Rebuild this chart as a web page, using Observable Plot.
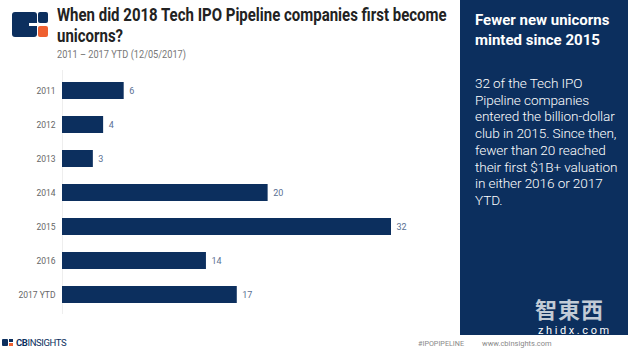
<!DOCTYPE html>
<html>
<head>
<meta charset="utf-8">
<script src="https://cdn.jsdelivr.net/npm/d3@7"></script>
<script src="https://cdn.jsdelivr.net/npm/@observablehq/plot@0.6"></script>
<style>
  html, body { margin: 0; padding: 0; background: #fff; }
  body { width: 640px; height: 350px; position: relative; overflow: hidden; font-family: Roboto, "Noto Sans", sans-serif; }
  .abs { position: absolute; }
  #title { left: 57px; top: 5px; white-space: nowrap; font-size: 18.5px; font-weight: 700; color: #222; line-height: 21px; transform: scaleX(0.81); transform-origin: left top; }
  #subtitle { left: 57px; top: 49px; font-size: 10px; color: #777; white-space: nowrap; transform: scaleX(0.92); transform-origin: left top; }
  #panel { left: 460px; top: 0; width: 168px; height: 335px; background: #0c2f5e; color: #fff; }
  #ptitle { left: 15px; top: 10px; width: 160px; font-size: 15px; font-weight: 700; line-height: 20px; }
  #pbody { left: 15px; top: 75px; width: 155px; font-size: 13.6px; font-weight: 300; line-height: 16.7px; letter-spacing: -0.1px; }
  #wm1 { left: 75px; top: 297px; font-size: 22px; line-height: 22px; font-weight: 700; color: rgba(255,255,255,0.75); font-family: "Noto Sans CJK SC", sans-serif; letter-spacing: 1px; }
  #wm2 { left: 78px; top: 325px; font-size: 11px; line-height: 11px; color: #fff; letter-spacing: 2.6px; }
  #chart { left: 0; top: 60px; }
  #foot1 { left: 16px; top: 337px; font-size: 9.5px; color: #0c2f5e; letter-spacing: -0.4px; }
  #foot2 { left: 418px; top: 339px; font-size: 7.2px; color: #888; }
  #foot3 { left: 482px; top: 339px; font-size: 7.5px; color: #888; }
</style>
</head>
<body>
<svg class="abs" style="left:0;top:0" width="60" height="45">
  <rect x="12" y="12" width="25" height="25" rx="3" fill="#0c2f5e"/>
  <rect x="29" y="23" width="9" height="3" fill="#fff"/>
  <rect x="38" y="12" width="10" height="11" rx="2" fill="#0c2f5e"/>
  <rect x="38" y="26" width="10" height="11" rx="2" fill="#ef6030"/>
</svg>
<div id="title" class="abs">When did 2018 Tech IPO Pipeline companies first become<br>unicorns?</div>
<div id="subtitle" class="abs">2011 – 2017 YTD (12/05/2017)</div>
<div id="chart" class="abs"></div>
<div id="panel" class="abs">
  <div id="ptitle" class="abs">Fewer new unicorns minted since 2015</div>
  <div id="pbody" class="abs">32 of the Tech IPO Pipeline companies entered the billion-dollar club in 2015. Since then, fewer than 20 reached their first $1B+ valuation in either 2016 or 2017 YTD.</div>
  <div id="wm1" class="abs">智東西</div>
  <div id="wm2" class="abs">zhidx.com</div>
</div>
<svg class="abs" style="left:0;top:336px" width="16" height="12">
  <rect x="2" y="3" width="6" height="7" rx="1" fill="#0c2f5e"/>
  <rect x="9" y="3" width="4" height="3" fill="#0c2f5e"/>
  <rect x="9" y="7" width="4" height="3" fill="#ef6030"/>
</svg>
<div id="foot1" class="abs"><b>CB</b>INSIGHTS</div>
<div id="foot2" class="abs">#IPOPIPELINE</div>
<div id="foot3" class="abs">www.cbinsights.com</div>
<script>
const years = ["2011", "2012", "2013", "2014", "2015", "2016", "2017 YTD"];
const counts = [6, 4, 3, 20, 32, 14, 17];

const data = years.map((y, i) => ({year: y, count: counts[i]}));

const chart = Plot.plot({
  width: 440,
  height: 264,
  marginLeft: 62,
  marginRight: 49,
  marginTop: 10,
  marginBottom: 10,
  style: {fontFamily: "Roboto, sans-serif", fontSize: "8.5px", background: "transparent"},
  x: {domain: [0, 32], axis: null},
  y: {domain: years, paddingInner: 0.5, paddingOuter: 0.25, label: null, tickSize: 0, tickPadding: 7},
  marks: [
    Plot.ruleX([0], {stroke: "#eee"}),
    Plot.barX(data, {x: "count", y: "year", fill: "#0c2f5e"}),
    Plot.text(data, {x: "count", y: "year", text: d => String(d.count), dx: 5, textAnchor: "start", fill: "#5a6f93", fontSize: 9}),
    Plot.axisY({tickSize: 0, tickPadding: 7, color: "#666", fontSize: 8.5, label: null})
  ]
});
document.getElementById("chart").appendChild(chart);
</script>
</body>
</html>
